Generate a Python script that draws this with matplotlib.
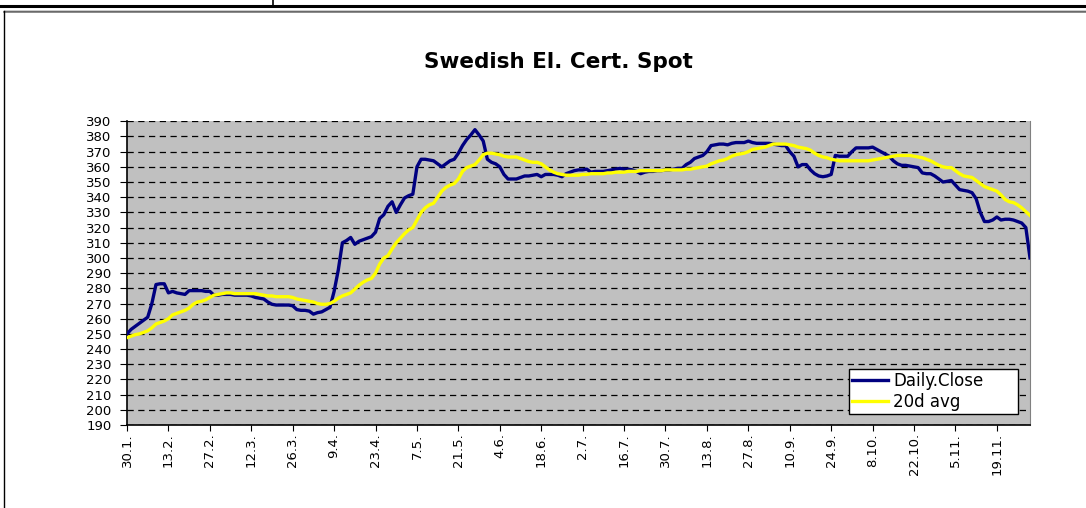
import matplotlib
matplotlib.use("Agg")
import matplotlib.pyplot as plt
from matplotlib.lines import Line2D

plt.rcParams['font.family'] = ['DejaVu Sans']

# daily close, one value per trading day (30.1. -> end of Nov)
daily_close = [
    250, 253, 255, 257, 259, 261, 270, 282.5, 283, 283,
    277, 278, 277, 276.5, 276, 278.5, 278.5, 278.5, 278.5, 278,
    278, 275.5, 275.5, 276, 276, 276, 275.5, 275.5, 275.5, 275.5,
    275, 274, 273.5, 273, 271, 269.5, 269, 269, 269, 269,
    268.5, 266, 265.5, 265.5, 265, 263, 264, 264.5, 266, 267.5,
    278, 292, 310, 311.5, 313.5, 309, 311, 312, 313, 314,
    317, 326, 328.5, 334, 337, 330, 335, 339.5, 341, 342,
    360, 365, 365, 364.5, 364, 362, 360, 362, 364, 365,
    369, 374, 378, 381, 384.5, 381, 377, 365, 363, 362,
    360, 355, 352, 352, 352, 353, 354, 354, 354.5, 355,
    353.5, 355, 355, 355, 354.5, 353.5, 355.5, 356.5, 357.5, 358,
    358, 358.5, 356.5, 357, 357, 357, 357.5, 358, 358.5, 359,
    358.5, 358.5, 358, 357, 355.5, 356.5, 357, 357, 357.5, 357.5,
    358, 358, 358.5, 359, 359, 361.5, 363, 365.5, 366.5, 367.5,
    370, 374, 374.5, 375, 375, 374.5, 375.5, 376, 376, 376,
    377, 376, 375.5, 375.5, 375.5, 375.5, 375, 374.5, 374, 374,
    370, 367, 360, 361.5, 361.5, 358, 355.5, 354, 353.5, 354,
    355, 367.5, 367, 367, 367, 370, 372.5, 372.5, 372.5, 372.5,
    373, 371.5, 370, 368.5, 367, 364, 362, 361, 361, 360.5,
    360, 359.5, 356, 355.5, 355.5, 354, 352, 350, 350.5, 351,
    348, 345, 344.5, 344, 343, 339, 330, 324, 324, 325,
    327, 325, 325.5, 325.5, 325, 324, 323, 320, 300,
]

avg_20d = [
    247.5, 248.5, 249.5, 250, 251, 252, 254, 256.5, 257.5, 258.5,
    260, 262.5, 263.5, 264.5, 265.5, 267, 269.5, 271, 271.5, 272.5,
    274, 275.5, 276, 276.5, 277, 277, 276.5, 276.5, 276.5, 276.5,
    276.5, 276.5, 276, 275.5, 275, 275, 274.5, 274.5, 274.5, 274.5,
    274, 273, 272.5, 272, 271.5, 271, 270, 269.5, 269.5, 270,
    271.5, 273.5, 275, 276, 277, 279.5, 282, 284, 285.5, 286.5,
    290, 296, 300, 301.5, 306, 310, 313, 316, 318.5, 320,
    325, 330, 333, 335, 336, 340, 344, 346.5, 348, 349,
    352, 357, 359.5, 360.5, 361.5, 364.5, 368, 369, 369, 368.5,
    368, 367, 366.5, 366.5, 366.5, 365.5, 364.5, 363.5, 363, 363,
    362, 360, 358, 356.5, 355.5, 355, 354.5, 354.5, 354.5, 354.5,
    355, 355, 355.5, 355.5, 355.5, 355.5, 356, 356, 356.5, 356.5,
    356.5, 357, 357, 357, 357.5, 357.5, 357.5, 357.5, 357.5, 357.5,
    358, 358, 358, 358, 358, 358.5, 358.5, 359, 359.5, 360,
    360.5, 362, 363, 364, 364.5, 365.5, 367, 368, 368.5, 369,
    370, 371.5, 372, 372.5, 373, 374, 375, 375, 375, 375,
    374.5, 374, 373, 372.5, 372, 371, 369, 367.5, 366.5, 366,
    365, 364.5, 364, 364, 364, 364, 364, 364, 364, 364,
    364.5, 365, 365.5, 366, 366.5, 367, 367.5, 367.5, 367.5, 367.5,
    367, 366.5, 366, 365, 364, 362.5, 361, 360, 359.5, 359.5,
    357.5, 355.5, 354, 353.5, 353, 351, 349, 347, 346, 345,
    344, 341.5, 338.5, 337, 336.5, 335, 333, 330.5, 328,
]

tick_labels = ["30.1.", "13.2.", "27.2.", "12.3.", "26.3.", "9.4.", "23.4.",
               "7.5.", "21.5.", "4.6.", "18.6.", "2.7.", "16.7.", "30.7.",
               "13.8.", "27.8.", "10.9.", "24.9.", "8.10.", "22.10.",
               "5.11.", "19.11."]

W, H = 1086, 508
fig = plt.figure(figsize=(W / 100, H / 100), dpi=100)

# outer frame lines (sheet border + chart box)
fig.add_artist(Line2D([0, 1], [1 - 5.5 / H, 1 - 5.5 / H], color='black', lw=2.2))
fig.add_artist(Line2D([272.5 / W, 272.5 / W], [1 - 5 / H, 1], color='black', lw=1.2))
fig.add_artist(Line2D([3.5 / W, 1], [1 - 10.5 / H, 1 - 10.5 / H], color='black', lw=1))
fig.add_artist(Line2D([4 / W, 1], [1 - 12 / H, 1 - 12 / H], color='#808080', lw=1.2))
fig.add_artist(Line2D([3.5 / W, 3.5 / W], [0, 1 - 10.5 / H], color='black', lw=1))

ax = fig.add_axes([127 / W, 1 - 425 / H, (1030 - 127) / W, (425 - 121.3) / H])
ax.set_facecolor('#C0C0C0')

x = list(range(len(daily_close)))
ax.plot(x, daily_close, color='#000080', lw=2.4, label='Daily.Close',
        solid_joinstyle='round', zorder=3)
ax.plot(x, avg_20d, color='#FFFF00', lw=2.4, label='20d avg',
        solid_joinstyle='round', zorder=4)

ax.set_xlim(0, len(daily_close) - 1)
ax.set_ylim(190, 390)
ax.set_yticks(range(190, 391, 10))
ax.set_xticks(range(0, 10 * len(tick_labels), 10))
ax.set_xticklabels(tick_labels, rotation=90, fontsize=9.5)
ax.tick_params(axis='y', labelsize=9.5, length=5, direction='out', pad=6)
ax.tick_params(axis='x', length=4, direction='out', pad=2)

ax.grid(axis='y', color='black', lw=0.9, linestyle=(0, (5, 3.6)))
ax.set_axisbelow(True)
ax.spines['top'].set_visible(False)
ax.spines['right'].set_color('#808080')
ax.spines['left'].set_linewidth(1.2)
ax.spines['bottom'].set_linewidth(1.2)

fig.text(558 / W, 1 - 62 / H, 'Swedish El. Cert. Spot', ha='center', va='center',
         fontsize=15.5, fontweight='bold')

leg = ax.legend(loc='lower left',
                bbox_to_anchor=(849 / W, 1 - 414 / H, 169 / W, 46 / H),
                bbox_transform=fig.transFigure, mode='expand',
                fontsize=12, handlelength=2.15,
                fancybox=False, framealpha=1, edgecolor='black',
                borderpad=0.2, labelspacing=0.15, handletextpad=0.3,
                borderaxespad=0)
leg.get_frame().set_linewidth(1)

fig.savefig('out.png', dpi=100)
